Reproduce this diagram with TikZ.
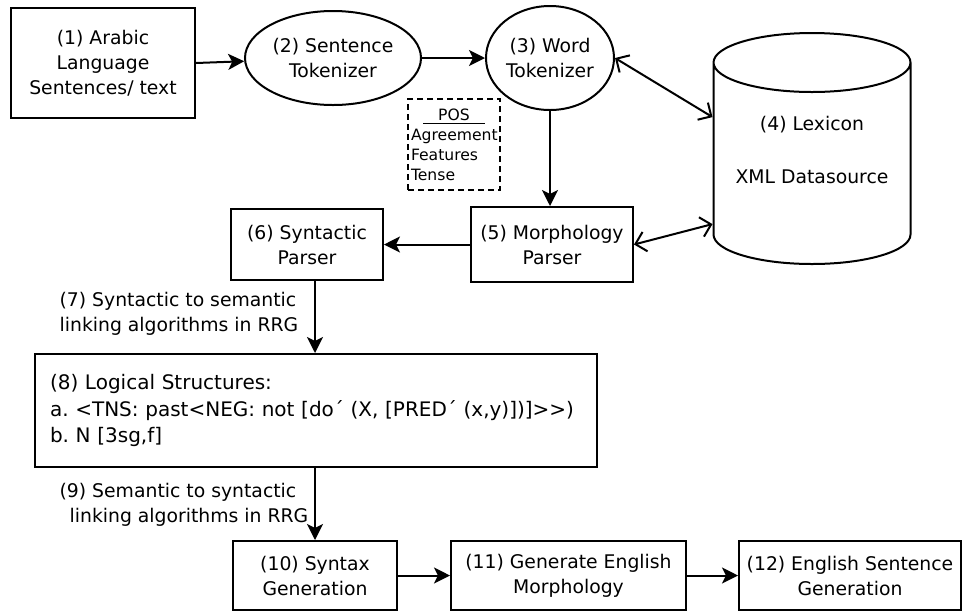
\documentclass[tikz,border=0pt]{standalone}
\usepackage{fontspec}
\setmainfont{DejaVu Sans}
\usetikzlibrary{calc}
\usetikzlibrary{positioning, arrows.meta, shapes.geometric}

\begin{document}
\frenchspacing
\begin{tikzpicture}[x=0.5pt, y=-0.5pt, line width=1pt,
    font=\fontsize{9.4}{12.5}\selectfont,
    box/.style={draw, rectangle, align=center, inner sep=2pt},
    oval/.style={draw, ellipse, align=center, inner sep=0pt},
    flow/.style={-{Stealth[length=8pt, width=8pt, inset=2pt]}},
    link/.style={{Straight Barb[length=5pt, width=10pt]}-{Straight Barb[length=5pt, width=10pt]}}]
    \useasboundingbox (0,0) rectangle (963,612);
    \node (src) [box, minimum width=92pt, minimum height=55pt] at (103,63) {(1) Arabic\\Language\\Sentences/ text};
    \node (stok) [oval, minimum width=88pt, minimum height=47pt] at (333,58) {(2) Sentence\\Tokenizer};
    \node (wtok) [oval, minimum width=64pt, minimum height=52pt] at (550,58) {(3) Word\\Tokenizer};
    \node (lex) [draw, cylinder, shape border rotate=90, aspect=0.355, align=center, minimum width=98.5pt, minimum height=115.5pt, anchor=shape center] at (812,148.5) {(4) Lexicon\\[14pt]XML Datasource\\[6.5pt]\mbox{}};
    \node (pos) [draw, dash pattern=on 3pt off 2pt, align=left, text width=43pt, inner sep=1.5pt, minimum height=45.5pt, font=\fontsize{7.8}{10}\selectfont] at (454,144.5) {\makebox[\linewidth]{\underline{\makebox[31pt]{POS}}}\\Agreement\\Features\\Tense};
    \node (morph) [box, minimum width=81pt, minimum height=37.5pt] at (552,244.5) {(5) Morphology\\Parser};
    \node (synp) [box, minimum width=76pt, minimum height=35.5pt, left=43pt of morph] {(6) Syntactic\\Parser};
    \node (lbl7) [anchor=west, align=left] at (52,314) {(7) Syntactic to semantic\\linking algorithms in RRG};
    \node (logic) [box, align=left, text width=266pt, inner xsep=7.5pt, minimum height=56.5pt, font=\fontsize{10}{13.2}\selectfont] at (316,410.5) {(8) Logical Structures:\\a. <TNS: past<NEG: not [do´ (X, [PRED´ (x,y)])]>{}>)\\b. N [3sg,f]};
    \node (lbl9) [anchor=west, align=left] at (52,505) {(9) Semantic to syntactic\\\hspace{5pt}linking algorithms in RRG};
    \node (sgen) [box, minimum width=82pt, minimum height=34.5pt] at (315,575.5) {(10) Syntax\\Generation};
    \node (egen) [box, minimum width=117.5pt, minimum height=34.5pt, right=26pt of sgen] {(11) Generate English\\Morphology};
    \node (esent) [box, minimum width=111pt, minimum height=34.5pt, right=25.5pt of egen] {(12) English Sentence\\Generation};

    \draw [flow] (src.east) -- (stok);
    \draw [flow] (stok.east) -- (wtok.west);
    \draw [link] (wtok.east) -- ($(lex.180)+(0,-52)$);
    \draw [flow] (wtok.south) -- (wtok.south |- morph.north);
    \draw [link] (morph.east) -- ($(lex.180)+(0,55)$);
    \draw [flow] (morph.west) -- (synp.east);
    \draw [flow] (synp.south -| sgen) -- (logic.north -| sgen);
    \draw [flow] (logic.south -| sgen) -- (sgen.north);
    \draw [flow] (sgen.east) -- (egen.west);
    \draw [flow] (egen.east) -- (esent.west);
\end{tikzpicture}
\end{document}
